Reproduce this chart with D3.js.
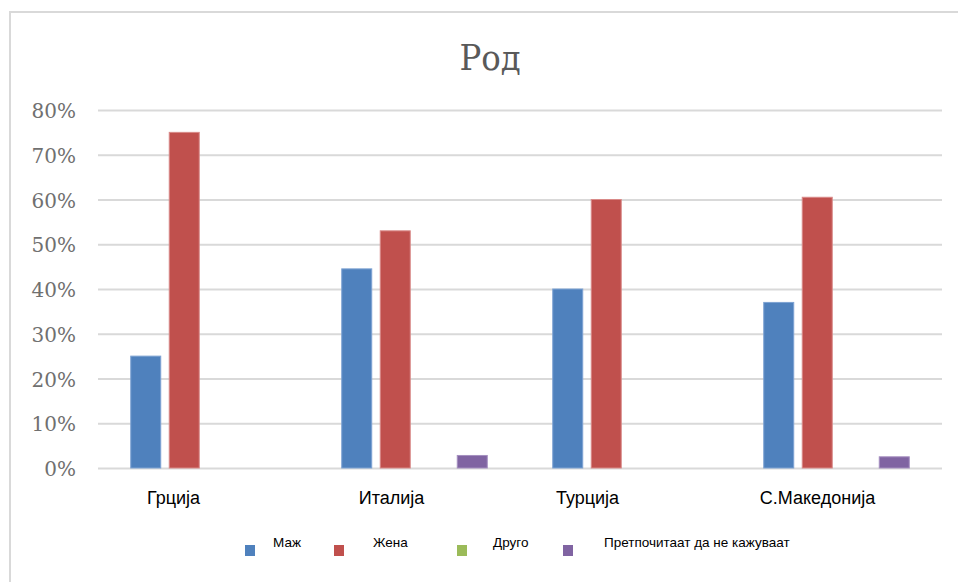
<!DOCTYPE html>
<html>
<head>
<meta charset="utf-8">
<script src="https://cdn.jsdelivr.net/npm/d3@7"></script>
<style>
html,body{margin:0;padding:0;background:#fff;}
svg{display:block;}
</style>
</head>
<body>
<svg id="chart" width="958" height="582"></svg>
<script>
// ---- data ----
const categories = ["Грција", "Италија", "Турција", "С.Македонија"];
const seriesNames = ["Маж", "Жена", "Друго", "Претпочитаат да не кажуваат"];
const maleValues = [0.25, 0.445, 0.40, 0.37];
const femaleValues = [0.75, 0.53, 0.60, 0.605];
const otherValues = [0, 0, 0, 0];
const preferNotValues = [0, 0.028, 0, 0.025];
const yTicks = [0, 0.1, 0.2, 0.3, 0.4, 0.5, 0.6, 0.7, 0.8];
const title = "Род";

// ---- layout / style ----
const colors = ["#4f81bd", "#c0504d", "#9bbb59", "#8064a2"];
const strokeColors = ["#7ea3d3", "#d98a88", "#b9d18b", "#a58fc0"];
const labelShift = [-30, -23, -38, -19];
const legendSquareX = [245, 334, 457, 563];
const legendTextX = [273, 373, 493, 604];

const seriesValues = [maleValues, femaleValues, otherValues, preferNotValues];
const svg = d3.select("#chart");

// outer chart frame
svg.append("rect").attr("x", 10).attr("y", 12).attr("width", 960).attr("height", 600)
  .attr("fill", "#fff").attr("stroke", "#d9d9d9").attr("stroke-width", 2);

const plotLeft = 98, plotRight = 942, plotTop = 110, plotBottom = 468;

const x0 = d3.scaleBand().domain(categories).range([plotLeft, plotRight])
  .paddingInner(0.27).paddingOuter(0.135);
const x1 = d3.scaleBand().domain(d3.range(seriesNames.length)).range([0, x0.bandwidth()])
  .paddingInner(0.221).paddingOuter(0.1105);
const y = d3.scaleLinear().domain([0, 0.8]).range([plotBottom, plotTop]);

// gridlines
const yAxis = d3.axisLeft(y).tickValues(yTicks).tickSize(-(plotRight - plotLeft))
  .tickFormat(d3.format(".0%"));
const gy = svg.append("g").attr("transform", `translate(${plotLeft},0)`).call(yAxis);
gy.select(".domain").remove();
gy.selectAll(".tick line").attr("stroke", "#d9d9d9").attr("stroke-width", 2);
gy.selectAll(".tick text").attr("x", -22).attr("dy", "0.38em")
  .attr("fill", "#707070").style("font-family", "'DejaVu Serif', serif").style("font-size", "20px");

// bars
const groups = svg.append("g").selectAll("g").data(categories).join("g")
  .attr("transform", d => `translate(${x0(d)},0)`);
groups.selectAll("rect")
  .data((c, ci) => seriesValues.map((vals, si) => ({si, v: vals[ci]})))
  .join("rect")
  .filter(d => d.v > 0)
  .attr("x", d => x1(d.si))
  .attr("width", x1.bandwidth())
  .attr("y", d => y(d.v))
  .attr("height", d => y(0) - y(d.v))
  .attr("fill", d => colors[d.si])
  .attr("stroke", d => strokeColors[d.si])
  .attr("stroke-width", 1);

// category labels
const xAxis = d3.axisBottom(x0).tickSize(0);
const gx = svg.append("g").attr("transform", `translate(0,${plotBottom})`).call(xAxis);
gx.select(".domain").remove();
gx.selectAll(".tick text")
  .attr("x", (d, i) => labelShift[i])
  .attr("y", 36).attr("dy", 0)
  .attr("fill", "#000").style("font-family", "'Liberation Sans', Arial, sans-serif")
  .style("font-size", "18px");

// title
svg.append("text").attr("x", 490).attr("y", 70).attr("text-anchor", "middle")
  .attr("fill", "#595959")
  .style("font-family", "'DejaVu Serif Condensed', 'DejaVu Serif', serif")
  .style("font-stretch", "condensed")
  .style("font-size", "36px").text(title);

// legend
const leg = svg.append("g");
seriesNames.forEach((name, i) => {
  leg.append("rect").attr("x", legendSquareX[i]).attr("y", 545).attr("width", 10).attr("height", 11)
    .attr("fill", colors[i]);
  leg.append("text").attr("x", legendTextX[i]).attr("y", 547)
    .attr("fill", "#000").style("font-family", "'Liberation Sans', Arial, sans-serif")
    .style("font-size", "13.5px").text(name);
});
</script>
</body>
</html>
